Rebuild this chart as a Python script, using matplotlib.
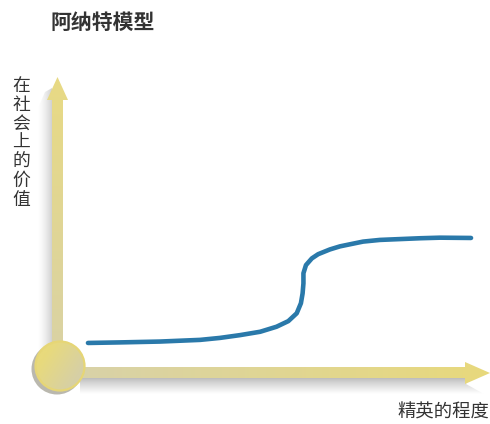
import matplotlib
matplotlib.use("Agg")
import matplotlib.pyplot as plt
import numpy as np
from matplotlib.patches import Polygon, Circle

plt.rcParams['font.family'] = ['Noto Sans CJK SC', 'DejaVu Sans']

# --- data (x = elite degree, y = social value, 0..10) ---
title = "阿纳特模型"
y_label = "在社会上的价值"
x_label = "精英的程度"
elite = [0.69, 1.45, 2.40, 3.36, 3.83, 4.31, 4.79, 5.18, 5.46, 5.66, 5.76, 5.80, 5.82,
         5.82, 5.88, 6.02, 6.17, 6.45, 6.69, 6.98, 7.24, 7.64, 8.12, 8.60, 9.07, 9.81]
value = [0.93, 0.95, 0.98, 1.04, 1.11, 1.21, 1.33, 1.51, 1.71, 1.99, 2.35, 2.70, 3.06,
         3.42, 3.71, 3.95, 4.10, 4.27, 4.38, 4.47, 4.55, 4.61, 4.64, 4.67, 4.69, 4.68]

W, H = 490, 424
fig = plt.figure(figsize=(W / 100, H / 100), dpi=100)

# background axes in pixel units for the decorative arrows
bg = fig.add_axes([0, 0, 1, 1])
bg.set_xlim(0, W); bg.set_ylim(H, 0); bg.axis("off")


def _mix(c0, c1, t):
    c0 = np.array(matplotlib.colors.to_rgb(c0)); c1 = np.array(matplotlib.colors.to_rgb(c1))
    return c0[None, :] * (1 - t[:, None]) + c1[None, :] * t[:, None]


def grad_patch(patch, c0, c1, extent, horizontal, z):
    # extent = (left, right, lower-on-screen, upper-on-screen); row 0 drawn at the upper edge
    bg.add_patch(patch)
    patch.set_facecolor("none"); patch.set_edgecolor("none")
    t = np.linspace(0, 1, 256)
    rgb = _mix(c0, c1, t)
    img = rgb[None, :, :] if horizontal else rgb[:, None, :]
    im = bg.imshow(img, extent=extent, origin="upper", aspect="auto", zorder=z)
    im.set_clip_path(patch)


def shadow(extent, horizontal, a0, a1, z, clip=None, grey=0.55, gamma=1.0):
    t = np.linspace(0, 1, 128) ** gamma
    a = a0 + (a1 - a0) * t
    img = np.zeros((1, 128, 4)) if horizontal else np.zeros((128, 1, 4))
    img[..., :3] = grey
    if horizontal:
        img[0, :, 3] = a
    else:
        img[:, 0, 3] = a
    im = bg.imshow(img, extent=extent, origin="upper", aspect="auto", zorder=z)
    if clip is not None:
        bg.add_patch(clip); clip.set_facecolor("none"); clip.set_edgecolor("none")
        im.set_clip_path(clip)


# shadows
shadow((37, 52, 360, 88), True, 0.0, 0.45, 1, gamma=1.6,
       clip=Polygon([(37, 360), (37, 110), (45, 92), (52, 88), (52, 360)], closed=True))
shadow((80, 484, 394, 378), False, 0.6, 0.0, 1, gamma=0.8,
       clip=Polygon([(80, 378), (470, 378), (466, 384), (484, 394), (80, 394)], closed=True))

# vertical arrow
v_arrow = Polygon([(52, 368), (52, 100), (47, 100), (57.5, 77), (68, 100), (63, 100), (63, 368)],
                  closed=True)
grad_patch(v_arrow, "#e8da84", "#d9d2a6", (45, 70, 368, 77), False, 2)

# horizontal arrow
h_arrow = Polygon([(60, 367), (465, 367), (465, 362), (490, 373), (465, 384), (465, 378), (60, 378)],
                  closed=True)
grad_patch(h_arrow, "#d8d2aa", "#e8d97c", (60, 490, 384, 362), True, 2)

# origin disk
bg.add_patch(Circle((57, 369), 25.5, facecolor="#a9a79a", edgecolor="none", alpha=0.8, zorder=3))
disk = Circle((60, 366), 25, zorder=4)
t = np.linspace(0, 1, 128)
gx, gy = np.meshgrid(t, t)
g = np.clip((gx * 0.8 + gy * 0.5 - 0.3) / 0.9, 0, 1)
c0 = np.array(matplotlib.colors.to_rgb("#e8da7c")); c1 = np.array(matplotlib.colors.to_rgb("#d2cdb0"))
img = c0 * (1 - g[..., None]) + c1 * g[..., None]
bg.add_patch(disk); disk.set_facecolor("none"); disk.set_edgecolor("none")
im = bg.imshow(img, extent=(35, 85, 391, 341), origin="upper", aspect="auto", zorder=4)
im.set_clip_path(disk)
bg.add_patch(Circle((60, 366), 24.5, facecolor="none", edgecolor="#e6d676", lw=1.6, zorder=5))
bg.set_xlim(0, W); bg.set_ylim(H, 0)

# data axes: origin at the disk, 42 px per x unit, 28 px per y unit
ax = fig.add_axes([59 / W, (H - 369) / H, 420 / W, 280 / H])
ax.set_xlim(0, 10); ax.set_ylim(0, 10)
ax.patch.set_alpha(0); ax.axis("off")
ax.plot(elite, value, color="#2a79aa", lw=3.3, solid_capstyle="round", solid_joinstyle="round",
        zorder=6)

# texts
fig.text(50 / W, 1 - 22 / H, title, fontsize=15, fontweight="bold", color="#333333",
         ha="left", va="center")
fig.text(21 / W, 1 - 143 / H, "\n".join(y_label), fontsize=12.8, color="#333333",
         ha="center", va="center", linespacing=1.06)
fig.text(489 / W, 1 - 413 / H, x_label, fontsize=13.2, color="#333333", ha="right", va="center")

fig.savefig("out.png", dpi=100)
